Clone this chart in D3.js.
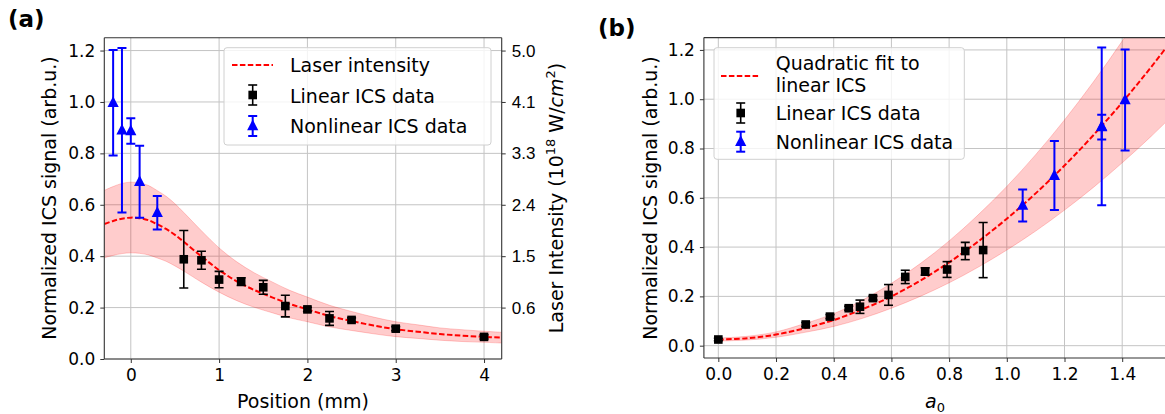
<!DOCTYPE html>
<html><head><meta charset="utf-8">
<script src="https://cdn.jsdelivr.net/npm/d3@7"></script>
<style>
html,body{margin:0;padding:0;background:#fff;}
svg{display:block;font-family:"DejaVu Sans",sans-serif;}
</style></head>
<body>
<svg id="c" width="1165" height="414"></svg>
<script>
// ---------- Panel (a) data ----------
const posLinear = [0.6, 0.8, 1.0, 1.25, 1.5, 1.75, 2.0, 2.25, 2.5, 3.0, 4.0];
const sigLinearA = [0.388, 0.384, 0.309, 0.301, 0.279, 0.206, 0.193, 0.158, 0.152, 0.118, 0.086];
const errLinearA = [0.112, 0.035, 0.032, 0.015, 0.027, 0.042, 0.008, 0.027, 0.008, 0.008, 0.008];
const posNonlinear = [-0.2, -0.1, 0.0, 0.1, 0.3];
const sigNonlinear = [0.997, 0.890, 0.887, 0.690, 0.569];
const errNonlinear = [0.205, 0.320, 0.050, 0.140, 0.065];
const laserPos = [-0.3, -0.2, -0.1, 0.0, 0.1, 0.2, 0.3, 0.4, 0.5, 0.6, 0.8, 1.0, 1.2, 1.4, 1.6, 1.8, 2.0, 2.25, 2.5, 2.75, 3.0, 3.25, 3.5, 3.75, 4.0, 4.2];
const laserMid = [0.525, 0.537, 0.546, 0.550, 0.548, 0.540, 0.524, 0.506, 0.483, 0.456, 0.399, 0.346, 0.302, 0.268, 0.240, 0.214, 0.193, 0.167, 0.148, 0.130, 0.116, 0.106, 0.097, 0.091, 0.086, 0.083];
const laserUpper = [0.656, 0.671, 0.683, 0.688, 0.685, 0.675, 0.655, 0.633, 0.604, 0.570, 0.499, 0.432, 0.378, 0.335, 0.300, 0.267, 0.241, 0.209, 0.185, 0.163, 0.145, 0.133, 0.121, 0.114, 0.108, 0.104];
const laserLower = [0.394, 0.403, 0.410, 0.413, 0.411, 0.405, 0.393, 0.380, 0.362, 0.342, 0.299, 0.260, 0.227, 0.201, 0.180, 0.160, 0.145, 0.125, 0.111, 0.098, 0.087, 0.080, 0.073, 0.068, 0.065, 0.062];
const xTicksA = [0, 1, 2, 3, 4];
const yTicks = [0.0, 0.2, 0.4, 0.6, 0.8, 1.0, 1.2];
const rightTickPos = [0.2, 0.4, 0.6, 0.8, 1.0, 1.2];
const rightTickLabels = ["0.6", "1.5", "2.4", "3.3", "4.1", "5.0"];

// ---------- Panel (b) data ----------
const a0Linear = [0.0, 0.303, 0.387, 0.452, 0.491, 0.536, 0.590, 0.648, 0.717, 0.793, 0.856, 0.918];
const sigLinearB = [0.025, 0.086, 0.118, 0.152, 0.158, 0.193, 0.206, 0.279, 0.301, 0.309, 0.384, 0.388];
const errLinearB = [0.005, 0.008, 0.008, 0.008, 0.027, 0.008, 0.042, 0.027, 0.015, 0.032, 0.035, 0.112];
const a0Nonlinear = [1.410, 1.329, 1.329, 1.165, 1.055];
const fitA0 = [0.0, 0.1, 0.2, 0.3, 0.4, 0.5, 0.6, 0.7, 0.8, 0.9, 1.0, 1.1, 1.2, 1.3, 1.4, 1.5, 1.6];
const fitMid = [0.025, 0.030, 0.045, 0.071, 0.104, 0.148, 0.200, 0.264, 0.338, 0.422, 0.515, 0.618, 0.731, 0.854, 0.987, 1.130, 1.283];
const fitUpper = [0.031, 0.038, 0.056, 0.090, 0.130, 0.185, 0.253, 0.333, 0.425, 0.530, 0.646, 0.775, 0.916, 1.070, 1.236, 1.415, 1.606];
const fitLower = [0.019, 0.023, 0.034, 0.054, 0.078, 0.111, 0.152, 0.200, 0.255, 0.318, 0.388, 0.465, 0.550, 0.642, 0.742, 0.849, 0.964];
const xTicksB = [0.0, 0.2, 0.4, 0.6, 0.8, 1.0, 1.2, 1.4];

const svg = d3.select("#c");
const defs = svg.append("defs");
const RED = "#ff0000", BLUE = "#0000ff";

function panel(opts) {
  const {id, x, y, xTicks} = opts;
  const [x0, x1] = x.range(), [yb, yt] = y.range();
  defs.append("clipPath").attr("id", id).append("rect")
    .attr("x", x0).attr("y", yt).attr("width", x1 - x0).attr("height", yb - yt);
  const g = svg.append("g");
  const grid = g.append("g").attr("stroke", "#c4c4c4").attr("stroke-width", 1);
  xTicks.forEach(t => grid.append("line").attr("x1", x(t)).attr("x2", x(t)).attr("y1", yt).attr("y2", yb));
  yTicks.forEach(t => grid.append("line").attr("x1", x0).attr("x2", x1).attr("y1", y(t)).attr("y2", y(t)));
  const plot = g.append("g").attr("clip-path", `url(#${id})`);
  return {g, plot};
}

function band(plot, x, y, xs, lo, hi) {
  const area = d3.area().x((d, i) => x(xs[i])).y0((d, i) => y(lo[i])).y1((d, i) => y(hi[i])).curve(d3.curveCatmullRom);
  plot.append("path").attr("d", area(xs)).attr("fill", RED).attr("fill-opacity", 0.2)
    .attr("stroke", RED).attr("stroke-opacity", 0.2).attr("stroke-width", 1);
}
function dashed(plot, x, y, xs, ys) {
  const line = d3.line().x((d, i) => x(xs[i])).y((d, i) => y(ys[i])).curve(d3.curveCatmullRom);
  plot.append("path").attr("d", line(xs)).attr("fill", "none").attr("stroke", RED)
    .attr("stroke-width", 2).attr("stroke-dasharray", "5.5,2.4");
}
function errbars(plot, x, y, xs, ys, es, color, lw, cap) {
  xs.forEach((xv, i) => {
    const cx = x(xv), ylo = y(ys[i] - es[i]), yhi = y(ys[i] + es[i]);
    plot.append("line").attr("x1", cx).attr("x2", cx).attr("y1", ylo).attr("y2", yhi).attr("stroke", color).attr("stroke-width", lw);
    [ylo, yhi].forEach(yy => plot.append("line").attr("x1", cx - cap).attr("x2", cx + cap).attr("y1", yy).attr("y2", yy).attr("stroke", color).attr("stroke-width", lw));
  });
}
function squares(plot, x, y, xs, ys) {
  xs.forEach((xv, i) => plot.append("rect").attr("x", x(xv) - 4.3).attr("y", y(ys[i]) - 4.3).attr("width", 8.6).attr("height", 8.6).attr("fill", "#000"));
}
function triangles(plot, x, y, xs, ys) {
  xs.forEach((xv, i) => {
    const cx = x(xv), cy = y(ys[i]);
    plot.append("path").attr("d", `M${cx},${cy - 6.5}L${cx + 5.6},${cy + 4.3}L${cx - 5.6},${cy + 4.3}Z`).attr("fill", BLUE);
  });
}
function spines(g, x0, x1, yt, yb, right) {
  const s = g.append("g").attr("stroke", "#333").attr("stroke-width", 1.1).attr("fill", "none");
  s.append("line").attr("x1", x0).attr("x2", x0).attr("y1", yt).attr("y2", yb);
  s.append("line").attr("x1", x0).attr("x2", x1).attr("y1", yb).attr("y2", yb);
  s.append("line").attr("x1", x0).attr("x2", x1).attr("y1", yt).attr("y2", yt);
  if (right) s.append("line").attr("x1", x1).attr("x2", x1).attr("y1", yt).attr("y2", yb);
}
function axes(g, x, y, xTicks, xFmt) {
  const [x0] = x.range(), [yb] = y.range();
  const xa = g.append("g").attr("transform", `translate(0,${yb})`)
    .call(d3.axisBottom(x).tickValues(xTicks).tickFormat(xFmt).tickSize(4).tickPadding(6));
  const ya = g.append("g").attr("transform", `translate(${x0},0)`)
    .call(d3.axisLeft(y).tickValues(yTicks).tickFormat(d3.format(".1f")).tickSize(4).tickPadding(5));
  [xa, ya].forEach(a => {
    a.select(".domain").remove();
    a.selectAll("text").attr("font-size", 17).attr("fill", "#000").attr("font-family", "DejaVu Sans");
    a.selectAll("line").attr("stroke", "#333");
  });
}
function legend(g, bx, by, bw, bh) {
  g.append("rect").attr("x", bx).attr("y", by).attr("width", bw).attr("height", bh).attr("rx", 3)
    .attr("fill", "#fff").attr("fill-opacity", 0.8).attr("stroke", "#d0d0d0").attr("stroke-width", 1);
}
function legendErr(g, cx, cy, color, marker, lw) {
  g.append("line").attr("x1", cx).attr("x2", cx).attr("y1", cy - 10).attr("y2", cy + 10).attr("stroke", color).attr("stroke-width", lw);
  [cy - 10, cy + 10].forEach(yy => g.append("line").attr("x1", cx - 4.5).attr("x2", cx + 4.5).attr("y1", yy).attr("y2", yy).attr("stroke", color).attr("stroke-width", lw));
  if (marker === "s") g.append("rect").attr("x", cx - 4.3).attr("y", cy - 4.3).attr("width", 8.6).attr("height", 8.6).attr("fill", color);
  else g.append("path").attr("d", `M${cx},${cy - 6.5}L${cx + 5.6},${cy + 4.3}L${cx - 5.6},${cy + 4.3}Z`).attr("fill", color);
}
function text(g, x, y, s, size, extra) {
  const t = g.append("text").attr("x", x).attr("y", y).attr("font-size", size).attr("fill", "#000").text(s);
  if (extra) extra(t);
  return t;
}

// ================= Panel (a) =================
const xA = d3.scaleLinear().domain([-0.3, 4.2]).range([104.3, 501.7]);
const yA = d3.scaleLinear().domain([0, 1.25]).range([359, 37.7]);
const pA = panel({id: "clipA", x: xA, y: yA, xTicks: xTicksA});
band(pA.plot, xA, yA, laserPos, laserLower, laserUpper);
dashed(pA.plot, xA, yA, laserPos, laserMid);
errbars(pA.plot, xA, yA, posLinear, sigLinearA, errLinearA, "#000", 1.6, 4.5);
squares(pA.plot, xA, yA, posLinear, sigLinearA);
errbars(pA.plot, xA, yA, posNonlinear, sigNonlinear, errNonlinear, BLUE, 2, 4.5);
triangles(pA.plot, xA, yA, posNonlinear, sigNonlinear);
spines(pA.g, 104.3, 501.7, 37.7, 359, true);
axes(pA.g, xA, yA, xTicksA, d3.format("d"));
const ra = pA.g.append("g").attr("transform", "translate(501.7,0)")
  .call(d3.axisRight(yA).tickValues(rightTickPos).tickFormat((d, i) => rightTickLabels[i]).tickSize(4).tickPadding(6));
ra.select(".domain").remove();
ra.selectAll("text").attr("font-size", 17).attr("fill", "#000");
ra.selectAll("line").attr("stroke", "#333");
text(pA.g, 0, 0, "Normalized ICS signal (arb.u.)", 19, t => t.attr("text-anchor", "middle").attr("transform", "translate(56,198) rotate(-90)"));
text(pA.g, 303, 408, "Position (mm)", 19, t => t.attr("text-anchor", "middle"));
const rl = pA.g.append("text").attr("font-size", 19).attr("text-anchor", "middle").attr("transform", "translate(563,198) rotate(-90)");
rl.append("tspan").text("Laser Intensity (10");
rl.append("tspan").attr("font-size", 13).attr("dy", -8).text("18");
rl.append("tspan").attr("dy", 8).text(" W/");
rl.append("tspan").attr("font-style", "italic").text("cm");
rl.append("tspan").attr("font-size", 13).attr("dy", -8).text("2");
rl.append("tspan").attr("dy", 8).text(")");
text(pA.g, 8, 27, "(a)", 23, t => t.attr("font-weight", "bold"));
legend(pA.g, 224, 47.7, 267, 97.3);
pA.g.append("line").attr("x1", 232).attr("x2", 273).attr("y1", 65).attr("y2", 65).attr("stroke", RED).attr("stroke-width", 2).attr("stroke-dasharray", "5.5,2.4");
legendErr(pA.g, 252.7, 95, "#000", "s", 1.6);
legendErr(pA.g, 252.7, 126, BLUE, "t", 2);
[["Laser intensity", 65], ["Linear ICS data", 96], ["Nonlinear ICS data", 126]].forEach(([s, yy]) =>
  text(pA.g, 290, yy, s, 19, t => t.attr("dominant-baseline", "central")));

// ================= Panel (b) =================
const xB = d3.scaleLinear().domain([-0.05, 1.6]).range([703.9, 1179.9]);
const yB = d3.scaleLinear().domain([-0.05, 1.25]).range([358, 37.6]);
const pB = panel({id: "clipB", x: xB, y: yB, xTicks: xTicksB});
band(pB.plot, xB, yB, fitA0, fitLower, fitUpper);
dashed(pB.plot, xB, yB, fitA0, fitMid);
errbars(pB.plot, xB, yB, a0Linear, sigLinearB, errLinearB, "#000", 1.6, 4.5);
squares(pB.plot, xB, yB, a0Linear, sigLinearB);
errbars(pB.plot, xB, yB, a0Nonlinear, sigNonlinear, errNonlinear, BLUE, 2, 4.5);
triangles(pB.plot, xB, yB, a0Nonlinear, sigNonlinear);
spines(pB.g, 703.9, 1179.9, 37.6, 358, false);
axes(pB.g, xB, yB, xTicksB, d3.format(".1f"));
text(pB.g, 0, 0, "Normalized ICS signal (arb.u.)", 19, t => t.attr("text-anchor", "middle").attr("transform", "translate(657,198) rotate(-90)"));
const al = pB.g.append("text").attr("x", 925).attr("y", 408).attr("font-size", 19);
al.append("tspan").attr("font-style", "italic").text("a");
al.append("tspan").attr("font-size", 13).attr("dy", 4).text("0");
text(pB.g, 598, 36, "(b)", 23, t => t.attr("font-weight", "bold"));
legend(pB.g, 714, 47.7, 250.3, 111.6);
pB.g.append("line").attr("x1", 721).attr("x2", 759).attr("y1", 76).attr("y2", 76).attr("stroke", RED).attr("stroke-width", 2).attr("stroke-dasharray", "5.5,2.4");
legendErr(pB.g, 740.7, 113, "#000", "s", 1.6);
legendErr(pB.g, 740.7, 141.7, BLUE, "t", 2);
[["Quadratic fit to", 63], ["linear ICS", 85], ["Linear ICS data", 113], ["Nonlinear ICS data", 141.7]].forEach(([s, yy]) =>
  text(pB.g, 775.7, yy, s, 19, t => t.attr("dominant-baseline", "central")));
</script>
</body></html>
